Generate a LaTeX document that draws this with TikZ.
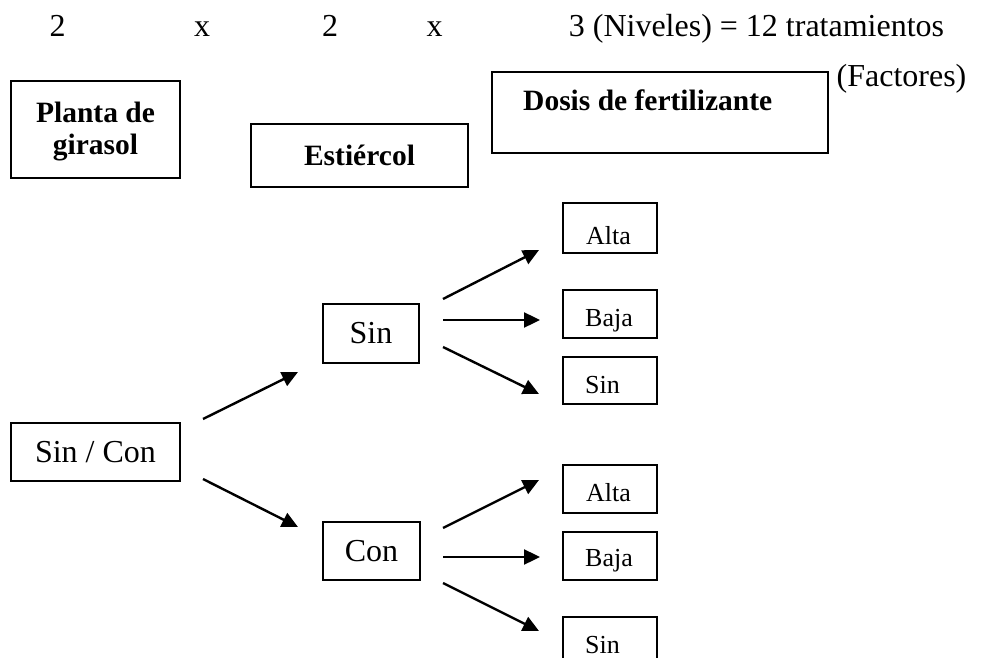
\documentclass[tikz,border=0pt]{standalone}
\usepackage{fontspec}
\setmainfont{Liberation Serif}
\usetikzlibrary{arrows.meta}
\begin{document}
\begin{tikzpicture}[x=1pt,y=-1pt,
  box/.style={draw, line width=1.6pt, inner sep=0pt},
  conn/.style={line width=2.4pt, -{Triangle[length=16pt,width=15pt]}},
  big/.style={font=\fontsize{32}{36}\selectfont},
  boldtxt/.style={font=\fontsize{29.5}{32}\selectfont\bfseries},
  small/.style={font=\fontsize{26}{28}\selectfont},
  lbl/.style={inner sep=0pt, anchor=base west},
]
\useasboundingbox (0,0) rectangle (983,658);
\clip (0,0) rectangle (983,658);

% top line
\node[big, inner sep=0pt, anchor=base] (n1) at (57.5,37) {2};
\node[big, inner sep=0pt, anchor=base] (x1) at (202,37) {x};
\node[big, inner sep=0pt, anchor=base] (n2) at (330,37) {2};
\node[big, inner sep=0pt, anchor=base] (x2) at (434.5,37) {x};
\node[big, inner sep=0pt, anchor=base] (n3) at (756.5,37) {3 (Niveles) = 12 tratamientos};
\node[big, inner sep=0pt, anchor=base] (fac) at (901.5,87) {(Factores)};

% factor boxes
\node[box, minimum width=169pt, minimum height=97pt] (planta) at (95.5,129.5) {};
\node[boldtxt, align=center, inner sep=0pt] (plantatxt) at (95.5,132) {Planta de\\girasol};
\node[box, boldtxt, minimum width=217pt, minimum height=63pt] (estiercol) at (359.5,155.5) {Estiércol};
\node[box, minimum width=336pt, minimum height=81pt] (dosis) at (660,112.5) {};
\node[lbl, boldtxt] (dosistxt) at (523,111) {Dosis de fertilizante};

% level boxes
\node[box, big, minimum width=169pt, minimum height=58pt] (sincon) at (95.5,452) {Sin / Con};
\node[box, big, minimum width=96pt, minimum height=59pt] (sin) at (371,333.5) {Sin};
\node[box, big, minimum width=97pt, minimum height=58pt] (con) at (371.5,551) {Con};

\node[box, minimum width=94pt, minimum height=50pt] (alta1) at (610,228) {};
\node[box, minimum width=94pt, minimum height=48pt] (baja1) at (610,314) {};
\node[box, minimum width=94pt, minimum height=47pt] (sin1) at (610,380.5) {};
\node[box, minimum width=94pt, minimum height=48pt] (alta2) at (610,489) {};
\node[box, minimum width=94pt, minimum height=48pt] (baja2) at (610,556) {};
\node[box, minimum width=94pt, minimum height=60pt] (sin2) at (610,647) {};

\node[lbl, small] (alta1t) at (586,244) {Alta};
\node[lbl, small] (baja1t) at (585,326) {Baja};
\node[lbl, small] (sin1t) at (585,393) {Sin};
\node[lbl, small] (alta2t) at (586,501) {Alta};
\node[lbl, small] (baja2t) at (585,566) {Baja};
\node[lbl, small] (sin2t) at (585,653) {Sin};

% arrow end points
\coordinate (a1s) at (203,419); \coordinate (a1e) at (298,372);
\coordinate (a2s) at (203,479); \coordinate (a2e) at (298,527);
\coordinate (b1s) at (443,299); \coordinate (b1e) at (539,250);
\coordinate (b2s) at (443,320); \coordinate (b2e) at (540,320);
\coordinate (b3s) at (443,347); \coordinate (b3e) at (539,394);
\coordinate (c1s) at (443,528); \coordinate (c1e) at (539,480);
\coordinate (c2s) at (443,557); \coordinate (c2e) at (540,557);
\coordinate (c3s) at (443,583); \coordinate (c3e) at (539,631);

\draw[conn] (a1s) -- (a1e);
\draw[conn] (a2s) -- (a2e);
\draw[conn] (b1s) -- (b1e);
\draw[conn] (b2s) -- (b2e);
\draw[conn] (b3s) -- (b3e);
\draw[conn] (c1s) -- (c1e);
\draw[conn] (c2s) -- (c2e);
\draw[conn] (c3s) -- (c3e);
\end{tikzpicture}
\end{document}
